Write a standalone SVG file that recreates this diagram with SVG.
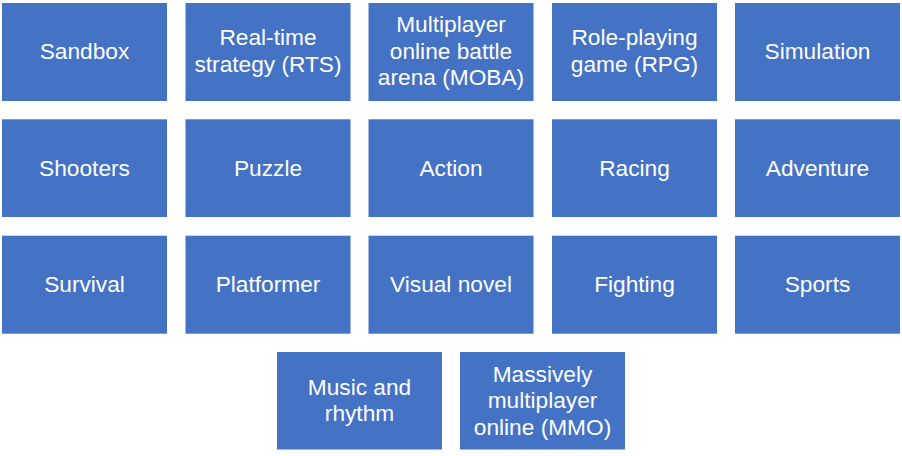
<svg xmlns="http://www.w3.org/2000/svg" width="902" height="456" viewBox="0 0 902 456">
<style>
.box{fill:#4472C4;}
.t{fill:#FFFFFF;font-family:"Liberation Sans",Arial,sans-serif;font-size:22.7px;text-anchor:middle;}
</style>
<rect width="902" height="456" fill="#FFFFFF"/>
<g id="sandbox"><rect class="box" x="2" y="3" width="165" height="98"/><text class="t" x="84.5" y="59.3">Sandbox</text></g>
<g id="rts"><rect class="box" x="185.5" y="3" width="165" height="98"/><text class="t" x="268" y="45.3">Real-time</text><text class="t" x="268" y="71.8">strategy (RTS)</text></g>
<g id="moba"><rect class="box" x="368.5" y="3" width="165" height="98"/><text class="t" x="451" y="32.3">Multiplayer</text><text class="t" x="451" y="58.8">online battle</text><text class="t" x="451" y="85.3">arena (MOBA)</text></g>
<g id="rpg"><rect class="box" x="552" y="3" width="165" height="98"/><text class="t" x="634.5" y="45.3">Role-playing</text><text class="t" x="634.5" y="71.8">game (RPG)</text></g>
<g id="simulation"><rect class="box" x="735" y="3" width="165" height="98"/><text class="t" x="817.5" y="59.3">Simulation</text></g>

<g id="shooters"><rect class="box" x="2" y="119.3" width="165" height="97.7"/><text class="t" x="84.5" y="175.8">Shooters</text></g>
<g id="puzzle"><rect class="box" x="185.5" y="119.3" width="165" height="97.7"/><text class="t" x="268" y="175.8">Puzzle</text></g>
<g id="action"><rect class="box" x="368.5" y="119.3" width="165" height="97.7"/><text class="t" x="451" y="175.8">Action</text></g>
<g id="racing"><rect class="box" x="552" y="119.3" width="165" height="97.7"/><text class="t" x="634.5" y="175.8">Racing</text></g>
<g id="adventure"><rect class="box" x="735" y="119.3" width="165" height="97.7"/><text class="t" x="817.5" y="175.8">Adventure</text></g>

<g id="survival"><rect class="box" x="2" y="235.7" width="165" height="98"/><text class="t" x="84.5" y="292.2">Survival</text></g>
<g id="platformer"><rect class="box" x="185.5" y="235.7" width="165" height="98"/><text class="t" x="268" y="292.2">Platformer</text></g>
<g id="visual-novel"><rect class="box" x="368.5" y="235.7" width="165" height="98"/><text class="t" x="451" y="292.2">Visual novel</text></g>
<g id="fighting"><rect class="box" x="552" y="235.7" width="165" height="98"/><text class="t" x="634.5" y="292.2">Fighting</text></g>
<g id="sports"><rect class="box" x="735" y="235.7" width="165" height="98"/><text class="t" x="817.5" y="292.2">Sports</text></g>

<g id="music"><rect class="box" x="277" y="352" width="165" height="97.5"/><text class="t" x="359.5" y="394.8">Music and</text><text class="t" x="359.5" y="421.3">rhythm</text></g>
<g id="mmo"><rect class="box" x="460" y="352" width="165" height="97.5"/><text class="t" x="542.5" y="381.8">Massively</text><text class="t" x="542.5" y="408.3">multiplayer</text><text class="t" x="542.5" y="434.8">online (MMO)</text></g>
<g id="connectors"></g>
</svg>
